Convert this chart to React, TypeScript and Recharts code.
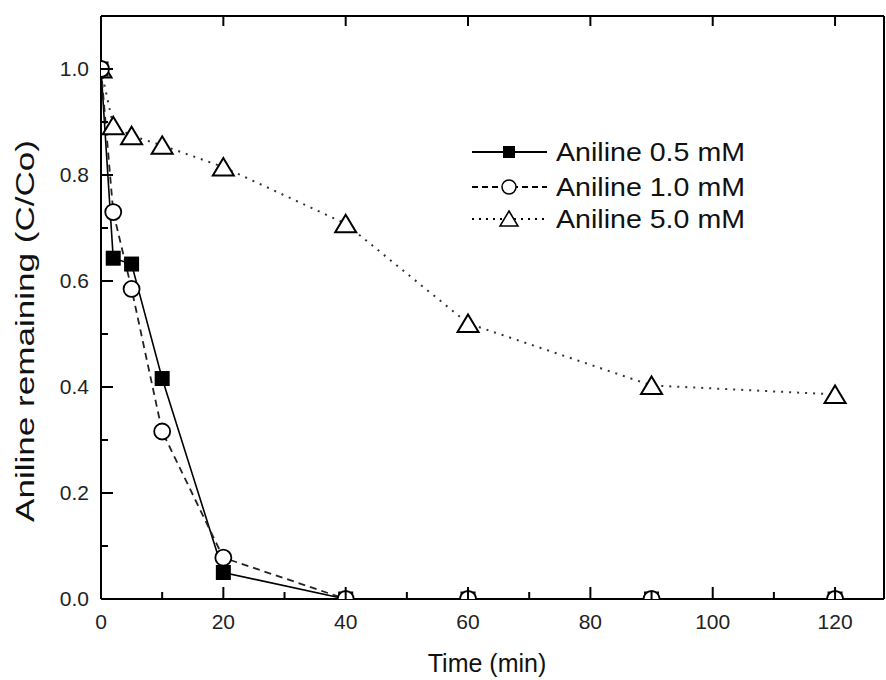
import { LineChart, Line, XAxis, YAxis, Legend } from 'recharts'

const time = [0, 2, 5, 10, 20, 40, 60, 90, 120]
const aniline05 = [1.0, 0.643, 0.632, 0.416, 0.05, 0, 0, 0, 0]
const aniline10 = [1.0, 0.73, 0.585, 0.316, 0.078, 0, 0, 0, 0]
const aniline50 = [1.0, 0.893, 0.874, 0.856, 0.815, 0.708, 0.52, 0.403, 0.386]

const xTicks = [0, 10, 20, 30, 40, 50, 60, 70, 80, 90, 100, 110, 120]
const xLabels = [0, 20, 40, 60, 80, 100, 120]
const yTicks = [0, 0.1, 0.2, 0.3, 0.4, 0.5, 0.6, 0.7, 0.8, 0.9, 1.0]
const yLabels = [0, 0.2, 0.4, 0.6, 0.8, 1.0]

const seriesNames = ['Aniline 0.5 mM', 'Aniline 1.0 mM', 'Aniline 5.0 mM']

const rows = time.map((t, i) => ({
  t,
  a05: aniline05[i],
  a10: aniline10[i],
  a50: aniline50[i],
}))

const FONT = '"Liberation Sans", Arial, sans-serif'
const isMajor = (v: number, list: number[]) => list.some((m) => Math.abs(m - v) < 1e-6)

function BottomTick(props: any) {
  const { x, y, payload } = props
  const major = isMajor(payload.value, xLabels)
  return (
    <g>
      <line x1={x} y1={y} x2={x} y2={y - (major ? 12 : 7)} stroke="#000" strokeWidth={2} />
      {major && (
        <text x={x} y={y + 30} textAnchor="middle" fontSize={21} fontFamily={FONT} fill="#222">
          {payload.value}
        </text>
      )}
    </g>
  )
}

function LeftTick(props: any) {
  const { x, y, payload } = props
  const major = isMajor(payload.value, yLabels)
  return (
    <g>
      <line x1={x} y1={y} x2={x + (major ? 12 : 7)} y2={y} stroke="#000" strokeWidth={2} />
      {major && (
        <text x={x - 12} y={y + 7} textAnchor="end" fontSize={21} fontFamily={FONT} fill="#222">
          {payload.value.toFixed(1)}
        </text>
      )}
    </g>
  )
}

function TopTick(props: any) {
  const { x, y } = props
  return <line x1={x} y1={y} x2={x} y2={y + 10} stroke="#000" strokeWidth={2} />
}

function RightTick(props: any) {
  const { x, y } = props
  return <line x1={x} y1={y} x2={x - 10} y2={y} stroke="#000" strokeWidth={2} />
}

function SquareDot(p: any) {
  if (p.cx == null || p.cy == null) return <g key={`s${p.index}`} />
  return <rect key={`s${p.index}`} x={p.cx - 7.5} y={p.cy - 7.5} width={15} height={15} fill="#000" />
}

function CircleDot(p: any) {
  if (p.cx == null || p.cy == null) return <g key={`c${p.index}`} />
  return <circle key={`c${p.index}`} cx={p.cx} cy={p.cy} r={8} fill="#fff" stroke="#000" strokeWidth={1.8} />
}

function TriangleDot(p: any) {
  if (p.cx == null || p.cy == null) return <g key={`t${p.index}`} />
  const { cx, cy } = p
  return (
    <path
      key={`t${p.index}`}
      d={`M${cx},${cy - 9} L${cx + 10.5},${cy + 8.5} L${cx - 10.5},${cy + 8.5} Z`}
      fill="#fff"
      stroke="#000"
      strokeWidth={2}
    />
  )
}

function LegendBox() {
  const rowY = [17, 52, 84]
  const dashes = [undefined, '6 4', '2 5']
  return (
    <svg width={300} height={100}>
      {seriesNames.map((name, i) => (
        <g key={name}>
          <line x1={2} x2={77} y1={rowY[i]} y2={rowY[i]} stroke="#000" strokeWidth={1.8} strokeDasharray={dashes[i]} />
          {i === 0 && <rect x={33} y={rowY[i] - 6} width={12} height={12} fill="#000" />}
          {i === 1 && <circle cx={39} cy={rowY[i]} r={7} fill="#fff" stroke="#000" strokeWidth={1.5} />}
          {i === 2 && (
            <path
              d={`M39,${rowY[i] - 8} L48,${rowY[i] + 7} L30,${rowY[i] + 7} Z`}
              fill="#fff"
              stroke="#000"
              strokeWidth={1.5}
            />
          )}
          <text
            x={86}
            y={rowY[i] + 9}
            fontSize={25}
            fontFamily={FONT}
            fill="#111"
            textLength={189}
            lengthAdjust="spacingAndGlyphs"
          >
            {name}
          </text>
        </g>
      ))}
    </svg>
  )
}

export default function App() {
  return (
    <div style={{ position: 'absolute', left: 0, top: 0, background: '#fff' }}>
      <LineChart width={886} height={680} data={rows} margin={{ top: 15, right: 1, bottom: 0, left: 0 }}>
        <XAxis
          xAxisId="b"
          dataKey="t"
          type="number"
          domain={[0, 128]}
          ticks={xTicks}
          interval={0}
          allowDataOverflow
          height={81}
          tickSize={0}
          tickMargin={0}
          tickLine={false}
          tick={<BottomTick />}
          axisLine={{ stroke: '#000', strokeWidth: 2 }}
          label={{
            content: () => (
              <text x={487} y={672} textAnchor="middle" fontSize={25} fontFamily={FONT} fill="#111">
                Time (min)
              </text>
            ),
          }}
        />
        <XAxis
          xAxisId="t"
          dataKey="t"
          type="number"
          orientation="top"
          domain={[0, 128]}
          ticks={xLabels}
          interval={0}
          height={1}
          tickSize={0}
          tickMargin={0}
          tickLine={false}
          tick={<TopTick />}
          axisLine={{ stroke: '#000', strokeWidth: 2 }}
        />
        <YAxis
          yAxisId="l"
          type="number"
          domain={[0, 1.1]}
          ticks={yTicks}
          interval={0}
          allowDataOverflow
          width={101}
          tickSize={0}
          tickMargin={0}
          tickLine={false}
          tick={<LeftTick />}
          axisLine={{ stroke: '#000', strokeWidth: 2 }}
          label={{
            content: () => (
              <text
                x={0}
                y={0}
                transform="translate(34,331) rotate(-90)"
                textAnchor="middle"
                fontSize={26}
                fontFamily={FONT}
                fill="#111"
                textLength={382}
                lengthAdjust="spacingAndGlyphs"
              >
                Aniline remaining (C/Co)
              </text>
            ),
          }}
        />
        <YAxis
          yAxisId="r"
          type="number"
          orientation="right"
          domain={[0, 1.1]}
          ticks={yLabels}
          interval={0}
          width={1}
          tickSize={0}
          tickMargin={0}
          tickLine={false}
          tick={<RightTick />}
          axisLine={{ stroke: '#000', strokeWidth: 2 }}
        />
        <Legend
          layout="vertical"
          align="center"
          verticalAlign="middle"
          wrapperStyle={{ position: 'absolute', left: 470, top: 135, width: 300 }}
          content={() => <LegendBox />}
        />
        <Line
          xAxisId="b"
          yAxisId="l"
          dataKey="a50"
          name={seriesNames[2]}
          stroke="#333"
          strokeWidth={2}
          strokeDasharray="2 6"
          dot={TriangleDot}
          isAnimationActive={false}
        />
        <Line
          xAxisId="b"
          yAxisId="l"
          dataKey="a05"
          name={seriesNames[0]}
          stroke="#000"
          strokeWidth={1.6}
          dot={SquareDot}
          isAnimationActive={false}
        />
        <Line
          xAxisId="b"
          yAxisId="l"
          dataKey="a10"
          name={seriesNames[1]}
          stroke="#222"
          strokeWidth={1.8}
          strokeDasharray="7 5"
          dot={CircleDot}
          isAnimationActive={false}
        />
      </LineChart>
    </div>
  )
}
